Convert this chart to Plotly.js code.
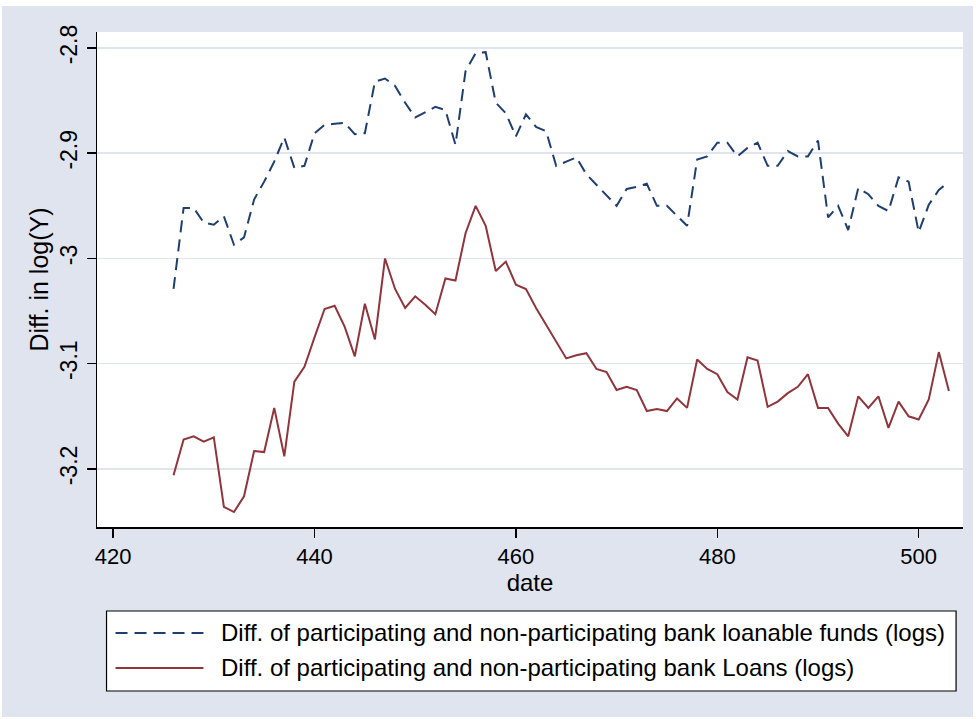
<!DOCTYPE html>
<html>
<head>
<meta charset="utf-8">
<script src="https://cdn.plot.ly/plotly-3.0.1.min.js"></script>
<style>
html,body{margin:0;padding:0;background:#ffffff;width:976px;height:719px;overflow:hidden;}
#chart{position:absolute;left:2px;top:6px;width:971px;height:711px;}
</style>
</head>
<body>
<div id="chart"></div>
<script>
// date index (monthly), 426..503
const dates = [426,427,428,429,430,431,432,433,434,435,436,437,438,439,440,441,442,443,444,445,
  446,447,448,449,450,451,452,453,454,455,456,457,458,459,460,461,462,463,464,465,
  466,467,468,469,470,471,472,473,474,475,476,477,478,479,480,481,482,483,484,485,
  486,487,488,489,490,491,492,493,494,495,496,497,498,499,500,501,502,503];

// Diff. of participating and non-participating bank loanable funds (logs)
const loanableFunds = [-3.029,-2.952,-2.952,-2.966,-2.968,-2.960,-2.987,-2.980,-2.944,-2.927,
  -2.908,-2.885,-2.914,-2.912,-2.881,-2.873,-2.872,-2.871,-2.882,-2.881,
  -2.832,-2.829,-2.836,-2.852,-2.866,-2.861,-2.856,-2.859,-2.892,-2.822,
  -2.805,-2.804,-2.852,-2.862,-2.884,-2.863,-2.875,-2.879,-2.912,-2.908,
  -2.904,-2.920,-2.930,-2.940,-2.950,-2.934,-2.932,-2.929,-2.950,-2.950,
  -2.960,-2.969,-2.906,-2.903,-2.890,-2.890,-2.903,-2.895,-2.890,-2.912,
  -2.912,-2.898,-2.903,-2.903,-2.888,-2.961,-2.950,-2.973,-2.933,-2.939,
  -2.950,-2.955,-2.923,-2.927,-2.975,-2.949,-2.935,-2.927];

// Diff. of participating and non-participating bank Loans (logs)
const loans = [-3.206,-3.172,-3.169,-3.174,-3.170,-3.236,-3.241,-3.226,-3.183,-3.184,
  -3.142,-3.188,-3.117,-3.103,-3.075,-3.048,-3.045,-3.065,-3.093,-3.043,
  -3.077,-3.000,-3.029,-3.047,-3.036,-3.044,-3.053,-3.019,-3.021,-2.976,
  -2.950,-2.969,-3.012,-3.003,-3.025,-3.029,-3.047,-3.063,-3.079,-3.095,
  -3.092,-3.090,-3.105,-3.108,-3.125,-3.122,-3.125,-3.145,-3.143,-3.145,
  -3.133,-3.142,-3.096,-3.105,-3.110,-3.127,-3.134,-3.094,-3.097,-3.141,
  -3.136,-3.128,-3.122,-3.110,-3.142,-3.142,-3.157,-3.169,-3.131,-3.142,
  -3.131,-3.161,-3.136,-3.150,-3.153,-3.134,-3.089,-3.126];

const seriesNames = [
  "Diff. of participating and non-participating bank loanable funds (logs)",
  "Diff. of participating and non-participating bank Loans (logs)"
];
const xTicks = [420,440,460,480,500];
const yTicks = [-2.8,-2.9,-3.0,-3.1,-3.2];
const yTickText = ["-2.8","-2.9","-3","-3.1","-3.2"];

const navy = "#1f3f70";
const maroon = "#90353b";
const bg = "#dfe4ef";
const font = "Liberation Sans, Arial, sans-serif";

const traces = [
  {x: dates, y: loanableFunds, type: "scatter", mode: "lines", name: seriesNames[0],
   line: {color: navy, width: 2, dash: "12px,7px"}},
  {x: dates, y: loans, type: "scatter", mode: "lines", name: seriesNames[1],
   line: {color: maroon, width: 2}}
];

// manual legend box (paper coordinates)
const lgX0 = 0.011, lgX1 = 0.992, lgY0 = -0.1697, lgY1 = -0.3313;
const rowY = [-0.2141, -0.2848];
const sampleX0 = 0.0214, sampleX1 = 0.1229, textX = 0.1414;

const shapes = [
  {type: "rect", xref: "paper", yref: "paper", x0: lgX0, x1: lgX1, y0: lgY0, y1: lgY1,
   line: {color: "#000000", width: 1.2}, fillcolor: "#ffffff", layer: "below"},
  {type: "line", xref: "paper", yref: "paper", x0: sampleX0, x1: sampleX1, y0: rowY[0], y1: rowY[0],
   line: {color: navy, width: 2, dash: "12px,7px"}},
  {type: "line", xref: "paper", yref: "paper", x0: sampleX0, x1: sampleX1, y0: rowY[1], y1: rowY[1],
   line: {color: maroon, width: 2}}
];
const annotations = seriesNames.map((s, i) => ({
  text: s, xref: "paper", yref: "paper", x: textX, y: rowY[i], xanchor: "left", yanchor: "middle",
  showarrow: false, font: {family: font, size: 24, color: "#000000"}
}));

const layout = {
  width: 971, height: 711,
  paper_bgcolor: bg, plot_bgcolor: "#ffffff",
  margin: {l: 94.5, r: 10, t: 26, b: 190},
  showlegend: false,
  font: {family: font, size: 22, color: "#000000"},
  xaxis: {
    range: [418.4, 504.4], tickvals: xTicks, ticks: "outside", ticklen: 9, tickwidth: 1.5,
    tickcolor: "#000", showline: true, linecolor: "#000", linewidth: 1.5,
    showgrid: false, zeroline: false,
    tickfont: {family: font, size: 22},
    title: {text: "date", font: {family: font, size: 24}, standoff: 0}
  },
  yaxis: {
    range: [-3.2552, -2.7848], tickvals: yTicks, ticktext: yTickText, tickangle: -90,
    ticks: "outside", ticklen: 9, tickwidth: 1.5, tickcolor: "#000",
    showline: true, linecolor: "#000", linewidth: 1.5,
    showgrid: true, gridcolor: "#dfe4ee", gridwidth: 1.5, zeroline: false,
    tickfont: {family: font, size: 23},
    title: {text: "Diff. in log(Y)", font: {family: font, size: 25}, standoff: 0}
  },
  shapes: shapes,
  annotations: annotations
};

Plotly.newPlot("chart", traces, layout, {displayModeBar: false, staticPlot: true});
</script>
</body>
</html>
